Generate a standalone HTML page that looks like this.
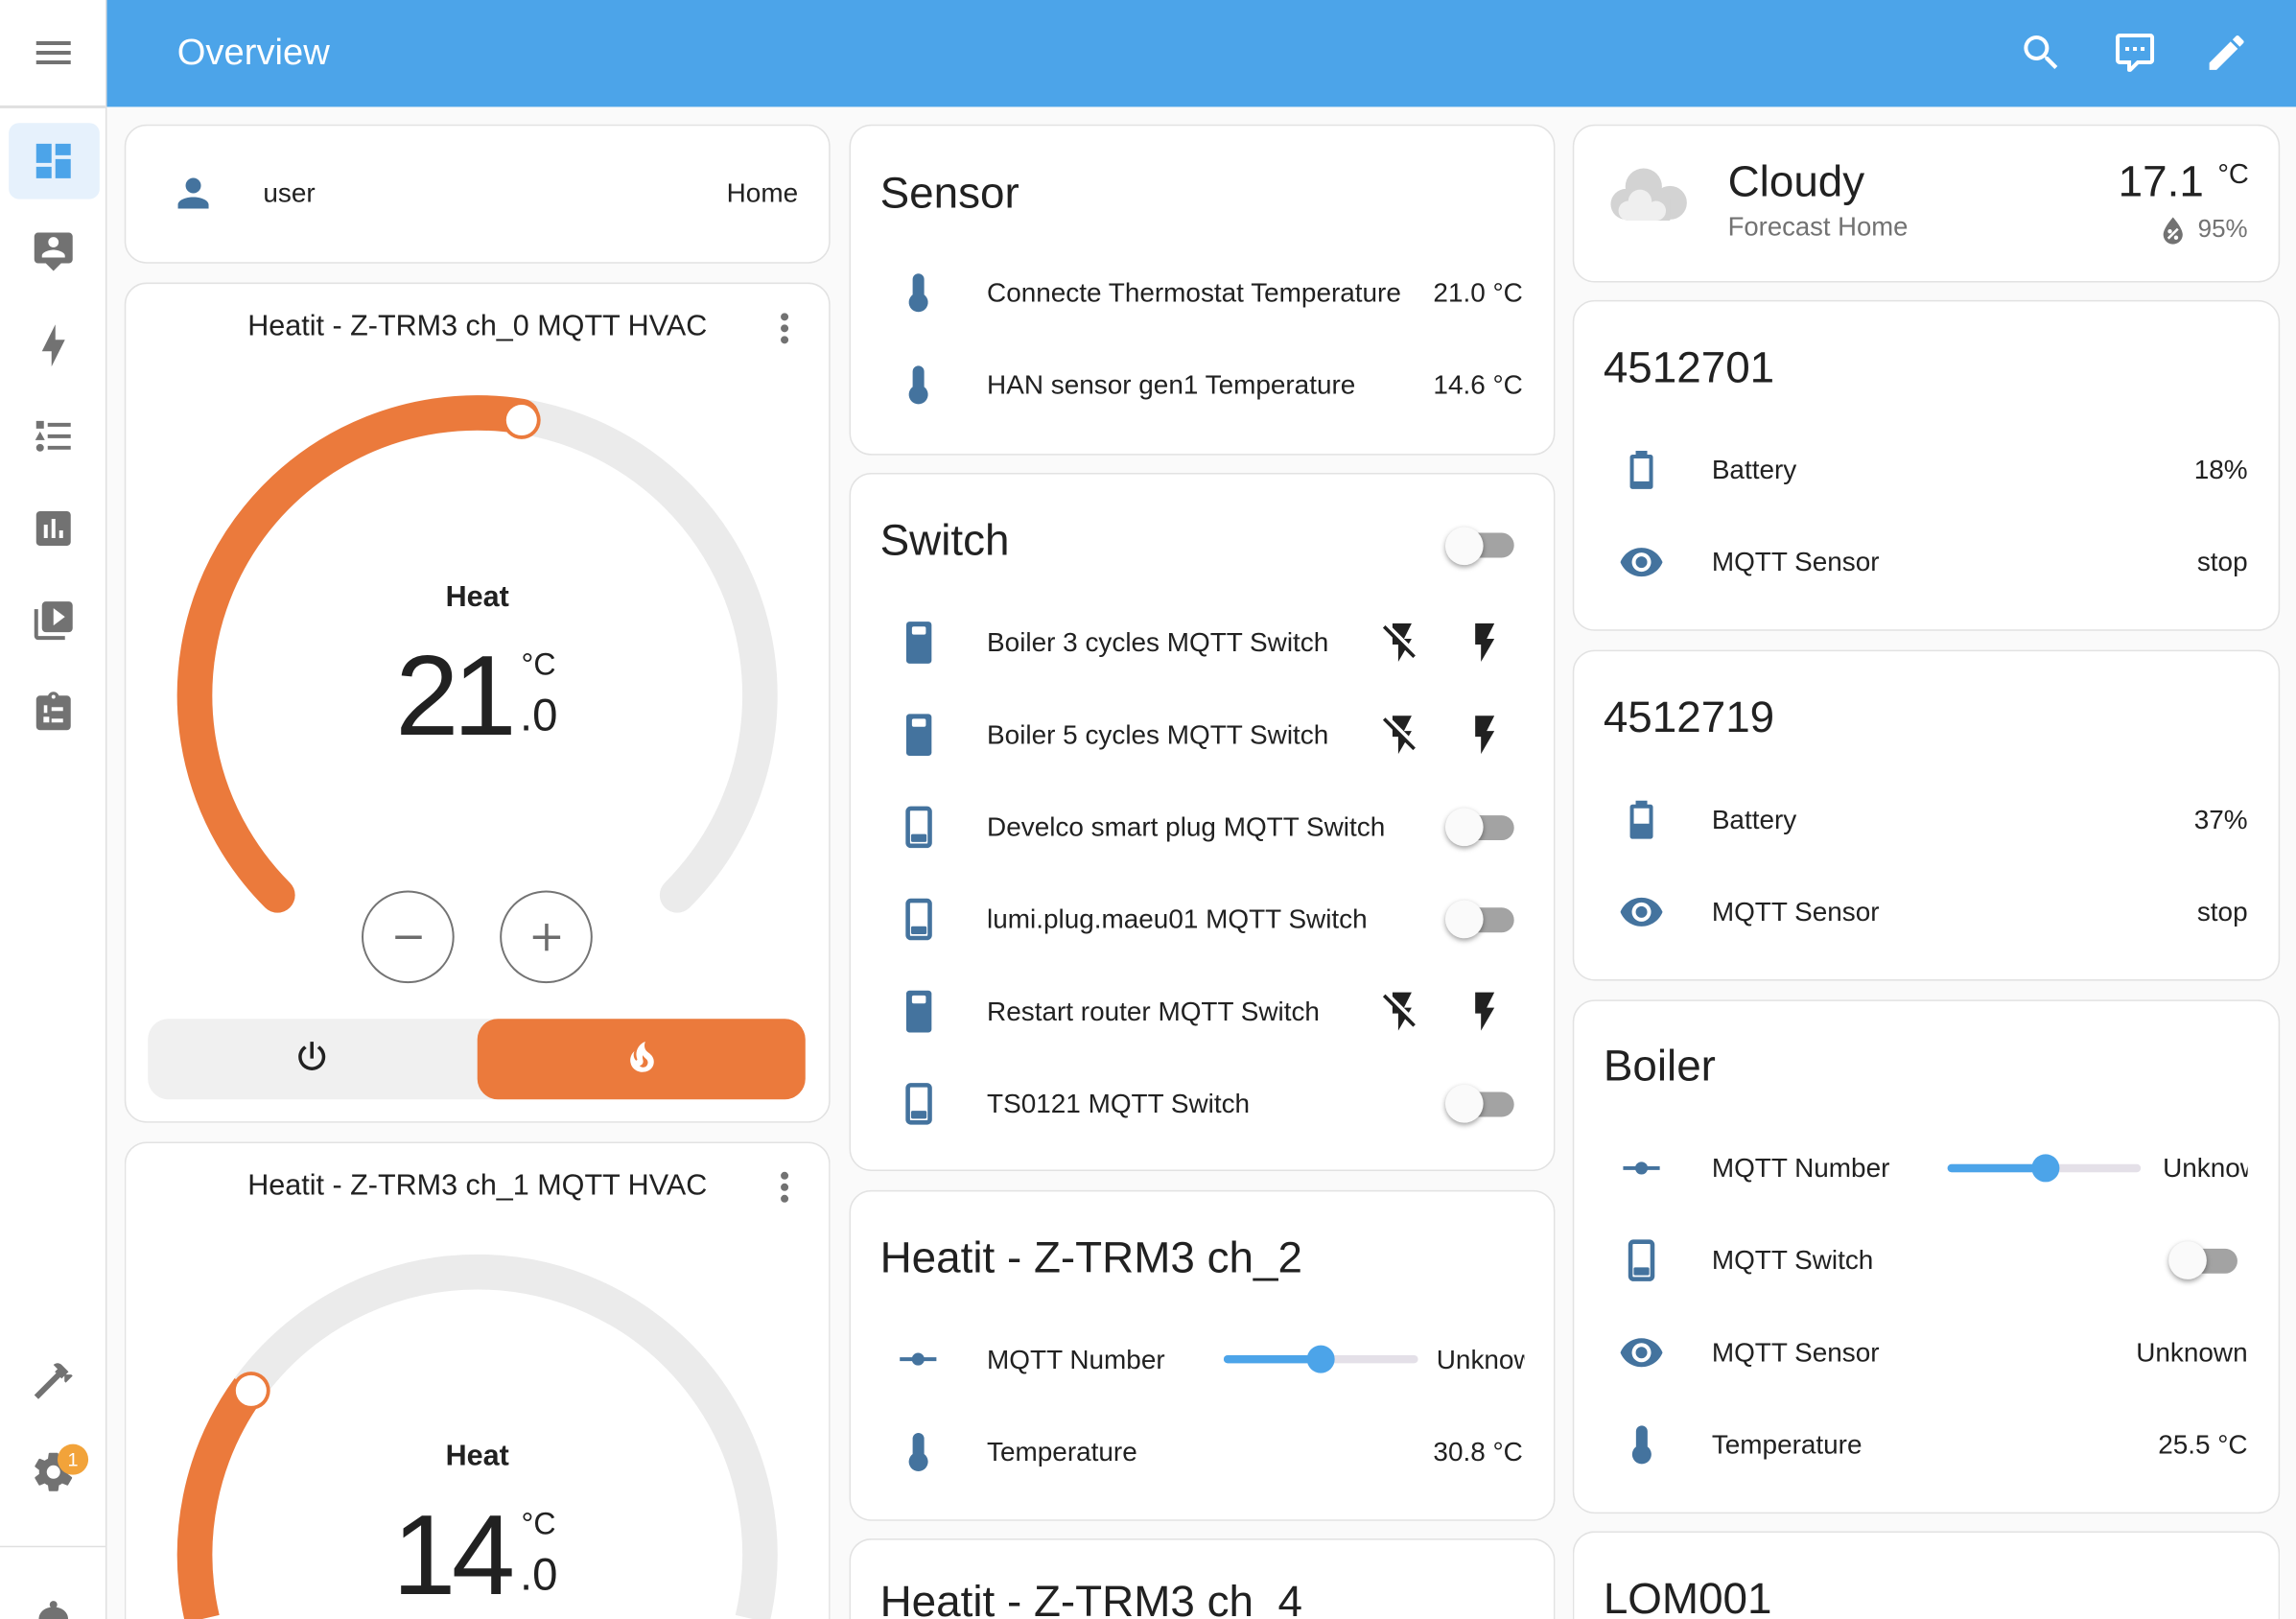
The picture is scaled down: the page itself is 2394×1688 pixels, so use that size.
<!DOCTYPE html>
<html><head><meta charset="utf-8">
<style>
html,body{margin:0;padding:0;width:2394px;height:1688px;overflow:hidden;background:#fafafa}
#s{position:absolute;left:0;top:0;width:1568px;height:1106px;transform-origin:0 0;transform:scale(1.526786,1.526221);font-family:"Liberation Sans",sans-serif;color:#212121;overflow:hidden;background:#fafafa}
.c{position:absolute;background:#fff;border:1.3px solid #e2e2e2;border-radius:15px;box-sizing:border-box}
.cb{border-bottom-width:0;border-radius:15px 15px 0 0}
.t{position:absolute;height:40px;line-height:40px;white-space:nowrap;font-size:18.3px}
.h{font-size:30px}
.ctr{text-align:center;width:482px;left:85px}
.tr{position:absolute;width:45px;height:17px;border-radius:8.5px;background:#a3a3a3}
.kn{position:absolute;width:26px;height:26px;border-radius:50%;background:#fafafa;box-shadow:0 1.5px 3.5px rgba(0,0,0,.38)}
</style></head><body><div id="s">

<!-- sidebar -->
<div style="position:absolute;left:0;top:0;width:72px;height:1106px;background:#fff;border-right:1.3px solid #e0e0e0"></div>
<div style="position:absolute;left:0;top:72.3px;width:72px;height:1.3px;background:#e0e0e0"></div>
<div style="position:absolute;left:0;top:1055.5px;width:72px;height:1.3px;background:#e0e0e0"></div>
<div style="position:absolute;left:5.6px;top:84px;width:62px;height:52px;border-radius:7px;background:#e6f1fc"></div>

<!-- header -->
<div style="position:absolute;left:73.3px;top:0;width:1495px;height:72.7px;background:#4ca4e9"></div>
<div class="t" style="left:121px;top:16px;font-size:25px;color:#fff">Overview</div>

<!-- cards -->
<div class="c" style="left:85px;top:85px;width:482px;height:95px"></div>
<div class="c" style="left:85px;top:193px;width:482px;height:574px"></div>
<div class="c cb" style="left:85px;top:780px;width:482px;height:326px"></div>
<div class="c" style="left:580px;top:85px;width:482px;height:226px"></div>
<div class="c" style="left:580px;top:323px;width:482px;height:477px"></div>
<div class="c" style="left:580px;top:813px;width:482px;height:226px"></div>
<div class="c cb" style="left:580px;top:1051px;width:482px;height:55px"></div>
<div class="c" style="left:1074px;top:85px;width:483px;height:108px"></div>
<div class="c" style="left:1074px;top:205px;width:483px;height:226px"></div>
<div class="c" style="left:1074px;top:444px;width:483px;height:226px"></div>
<div class="c" style="left:1074px;top:683px;width:483px;height:351px"></div>
<div class="c cb" style="left:1074px;top:1046px;width:483px;height:60px"></div>

<!-- mode bar -->
<div style="position:absolute;left:101px;top:695.5px;width:449px;height:55px;border-radius:14px;background:#f0f0f0"></div>
<div style="position:absolute;left:326px;top:695.5px;width:224px;height:55px;border-radius:14px;background:#eb7a3c"></div>

<!-- column 1 text -->
<div class="t" style="left:179.7px;top:112px">user</div>
<div class="t" style="right:1023px;top:112px">Home</div>
<div class="t ctr" style="top:203px;font-size:20px">Heatit - Z-TRM3 ch_0 MQTT HVAC</div>
<div class="t ctr" style="top:388px;font-size:20px;font-weight:bold">Heat</div>
<div class="t" style="left:270px;top:435px;height:80px;line-height:80px;font-size:78px;letter-spacing:-4px">21</div>
<div class="t" style="left:356px;top:435px;font-size:21px">°C</div>
<div class="t" style="left:355px;top:469px;font-size:31px">.0</div>
<div class="t ctr" style="top:790px;font-size:20px">Heatit - Z-TRM3 ch_1 MQTT HVAC</div>
<div class="t ctr" style="top:975px;font-size:20px;font-weight:bold">Heat</div>
<div class="t" style="left:268px;top:1022px;height:80px;line-height:80px;font-size:78px;letter-spacing:-3px">14</div>
<div class="t" style="left:356px;top:1021.5px;font-size:21px">°C</div>
<div class="t" style="left:355px;top:1056px;font-size:31px">.0</div>

<!-- column 2 text -->
<div class="t h" style="left:601px;top:113px">Sensor</div>
<div class="t" style="left:674px;top:180px">Connecte Thermostat Temperature</div>
<div class="t" style="right:528px;top:180px">21.0 °C</div>
<div class="t" style="left:674px;top:243px">HAN sensor gen1 Temperature</div>
<div class="t" style="right:528px;top:243px">14.6 °C</div>
<div class="t h" style="left:601px;top:350px">Switch</div>
<div class="t" style="left:674px;top:419px">Boiler 3 cycles MQTT Switch</div>
<div class="t" style="left:674px;top:482px">Boiler 5 cycles MQTT Switch</div>
<div class="t" style="left:674px;top:545px">Develco smart plug MQTT Switch</div>
<div class="t" style="left:674px;top:608px">lumi.plug.maeu01 MQTT Switch</div>
<div class="t" style="left:674px;top:671px">Restart router MQTT Switch</div>
<div class="t" style="left:674px;top:734px">TS0121 MQTT Switch</div>
<div class="t h" style="left:601px;top:840px">Heatit - Z-TRM3 ch_2</div>
<div class="t" style="left:674px;top:909px">MQTT Number</div>
<div class="t" style="left:981px;top:909px;width:60px;overflow:hidden">Unknown</div>
<div class="t" style="left:674px;top:972px">Temperature</div>
<div class="t" style="right:528px;top:972px">30.8 °C</div>
<div class="t h" style="left:601px;top:1075px;height:31px;overflow:hidden">Heatit - Z-TRM3 ch_4</div>

<!-- column 3 text -->
<div class="t h" style="left:1180px;top:104.5px">Cloudy</div>
<div class="t" style="left:1180px;top:135px;font-size:18px;color:#727272">Forecast Home</div>
<div class="t h" style="right:63px;top:104.5px">17.1</div>
<div class="t" style="left:1514.5px;top:99.5px;font-size:19px">°C</div>
<div class="t" style="right:33px;top:137px;font-size:17px;color:#727272">95%</div>
<div class="t h" style="left:1095px;top:232px">4512701</div>
<div class="t" style="left:1169px;top:301px">Battery</div>
<div class="t" style="right:33px;top:301px">18%</div>
<div class="t" style="left:1169px;top:364px">MQTT Sensor</div>
<div class="t" style="right:33px;top:364px">stop</div>
<div class="t h" style="left:1095px;top:471px">4512719</div>
<div class="t" style="left:1169px;top:540px">Battery</div>
<div class="t" style="right:33px;top:540px">37%</div>
<div class="t" style="left:1169px;top:603px">MQTT Sensor</div>
<div class="t" style="right:33px;top:603px">stop</div>
<div class="t h" style="left:1095px;top:709px">Boiler</div>
<div class="t" style="left:1169px;top:778px">MQTT Number</div>
<div class="t" style="left:1477px;top:778px;width:58px;overflow:hidden">Unknown</div>
<div class="t" style="left:1169px;top:841px">MQTT Switch</div>
<div class="t" style="left:1169px;top:904px">MQTT Sensor</div>
<div class="t" style="right:33px;top:904px">Unknown</div>
<div class="t" style="left:1169px;top:967px">Temperature</div>
<div class="t" style="right:33px;top:967px">25.5 °C</div>
<div class="t h" style="left:1095px;top:1073px;height:33px;overflow:hidden">LOM001</div>

<svg width="1568" height="1106" viewBox="0 0 1568 1106" style="position:absolute;left:0;top:0;overflow:hidden">
<!-- sidebar icons -->
<g fill="#727272">
<path transform="translate(20.8,20.3) scale(1.309)" d="M3,6H21V8H3V6M3,11H21V13H3V11M3,16H21V18H3V16Z"/>
<path transform="translate(20.8,156.3) scale(1.309)" fill-rule="evenodd" d="M20,2H4A2,2 0 0,0 2,4V16A2,2 0 0,0 4,18H8L12,22L16,18H20A2,2 0 0,0 22,16V4A2,2 0 0,0 20,2ZM12,4.3C13.5,4.3 14.7,5.5 14.7,7C14.7,8.5 13.5,9.7 12,9.7C10.5,9.7 9.3,8.5 9.3,7C9.3,5.5 10.5,4.3 12,4.3ZM18,15H6V14.1C6,12.1 10,11 12,11C14,11 18,12.1 18,14.1V15Z"/>
<path transform="translate(20.8,220.3) scale(1.309)" d="M11 15H6L13 1V9H18L11 23V15Z"/>
<path transform="translate(20.8,282.3) scale(1.309)" d="M5,9.5L7.5,14H2.5L5,9.5M3,4H7V8H3V4M5,20A2,2 0 0,0 7,18A2,2 0 0,0 5,16A2,2 0 0,0 3,18A2,2 0 0,0 5,20M9,5V7H21V5H9M9,19H21V17H9V19M9,13H21V11H9V13Z"/>
<path transform="translate(20.8,345.3) scale(1.309)" fill-rule="evenodd" d="M19 3H5C3.9 3 3 3.9 3 5V19C3 20.1 3.9 21 5 21H19C20.1 21 21 20.1 21 19V5C21 3.9 20.1 3 19 3ZM9 17H7V10H9V17ZM13 17H11V7H13V17ZM17 17H15V13H17V17Z"/>
<path transform="translate(20.8,408.3) scale(1.309)" fill-rule="evenodd" d="M4,6H2V20A2,2 0 0,0 4,22H18V20H4V6ZM20,2H8A2,2 0 0,0 6,4V16A2,2 0 0,0 8,18H20A2,2 0 0,0 22,16V4A2,2 0 0,0 20,2ZM12,14.5V5.5L18,10L12,14.5Z"/>
<g transform="translate(20.8,471.3) scale(1.309)">
<path d="M19,3H14.82C14.4,1.84 13.3,1 12,1C10.7,1 9.6,1.84 9.18,3H5A2,2 0 0,0 3,5V19A2,2 0 0,0 5,21H19A2,2 0 0,0 21,19V5A2,2 0 0,0 19,3Z"/>
<g fill="#fff"><circle cx="12" cy="3.6" r="1"/><rect x="7" y="8" width="1.8" height="4"/><rect x="6.8" y="14" width="3" height="3"/><rect x="11" y="9" width="6" height="2"/><rect x="11" y="15" width="6" height="2"/></g>
</g>
<path transform="translate(20.8,927.3) scale(1.309)" d="M2 19.63L13.43 8.2L12.72 7.5L14.14 6.07L12 3.89C13.2 2.7 15.09 2.7 16.27 3.89L19.87 7.5L18.45 8.91H21.29L22 9.62L18.45 13.21L17.74 12.5V9.62L16.27 11.04L15.56 10.33L4.13 21.76L2 19.63Z"/>
<path transform="translate(20.8,989.9) scale(1.309)" d="M12,15.5A3.5,3.5 0 0,1 8.5,12A3.5,3.5 0 0,1 12,8.5A3.5,3.5 0 0,1 15.5,12A3.5,3.5 0 0,1 12,15.5M19.43,12.97C19.47,12.65 19.5,12.33 19.5,12C19.5,11.67 19.47,11.34 19.43,11L21.54,9.37C21.73,9.22 21.78,8.95 21.66,8.73L19.66,5.27C19.54,5.05 19.27,4.96 19.05,5.05L16.56,6.05C16.04,5.66 15.5,5.32 14.87,5.07L14.5,2.42C14.46,2.18 14.25,2 14,2H10C9.75,2 9.54,2.18 9.5,2.42L9.13,5.07C8.5,5.32 7.96,5.66 7.44,6.05L4.95,5.05C4.73,4.96 4.46,5.05 4.34,5.27L2.34,8.73C2.21,8.95 2.27,9.22 2.46,9.37L4.57,11C4.53,11.34 4.5,11.67 4.5,12C4.5,12.33 4.53,12.65 4.57,12.97L2.46,14.63C2.27,14.78 2.21,15.05 2.34,15.27L4.34,18.73C4.46,18.95 4.73,19.03 4.95,18.95L7.44,17.94C7.96,18.34 8.5,18.68 9.13,18.93L9.5,21.58C9.54,21.82 9.75,22 10,22H14C14.25,22 14.46,21.82 14.5,21.58L14.87,18.93C15.5,18.67 16.04,18.34 16.56,17.94L19.05,18.95C19.27,19.03 19.54,18.95 19.66,18.73L21.66,15.27C21.78,15.05 21.73,14.78 21.54,14.63L19.43,12.97Z"/>
<!-- bell top (cut by frame) -->
<circle cx="36.5" cy="1096.2" r="2.6"/>
<path d="M26.5 1106 C26.5 1101.5 30.5 1097.8 36.5 1097.8 C42.5 1097.8 46.5 1101.5 46.5 1106 Z"/>
</g>
<path fill="#4ca4e9" transform="translate(20.8,94.3) scale(1.309)" d="M13,3V9H21V3M13,21H21V11H13M3,21H11V15H3M3,13H11V3H3V13Z"/>
<circle cx="49.8" cy="997" r="10.5" fill="#f2a33a"/>
<text x="49.8" y="1001.6" font-family="Liberation Sans, sans-serif" font-size="13" fill="#fff" text-anchor="middle">1</text>

<!-- header icons -->
<g fill="#fff">
<path transform="translate(1378.3,20.3) scale(1.309)" d="M9.5,3A6.5,6.5 0 0,1 16,9.5C16,11.11 15.41,12.59 14.44,13.73L14.71,14H15.5L20.5,19L19,20.5L14,15.5V14.71L13.73,14.44C12.59,15.41 11.11,16 9.5,16A6.5,6.5 0 0,1 3,9.5A6.5,6.5 0 0,1 9.5,3M9.5,5C7,5 5,7 5,9.5C5,12 7,14 9.5,14C12,14 14,12 14,9.5C14,7 12,5 9.5,5Z"/>
<path transform="translate(1442.3,20.3) scale(1.309)" d="M9,22A1,1 0 0,1 8,21V18H4A2,2 0 0,1 2,16V4C2,2.89 2.9,2 4,2H20A2,2 0 0,1 22,4V16A2,2 0 0,1 20,18H13.9L10.2,21.71C10,21.9 9.75,22 9.5,22V22H9M10,16V19.08L13.08,16H20V4H4V16H10M17,11H15V9H17V11M13,11H11V9H13V11M9,11H7V9H9V11Z"/>
<path transform="translate(1504.9,20.3) scale(1.309)" d="M20.71,7.04C21.1,6.65 21.1,6 20.71,5.63L18.37,3.29C18,2.9 17.35,2.9 16.96,3.29L15.12,5.12L18.87,8.87M3,17.25V21H6.75L17.81,9.93L14.06,6.18L3,17.25Z"/>
</g>

<!-- user icon -->
<path fill="#44739e" transform="translate(116.3,116.3) scale(1.309)" d="M12,4A4,4 0 0,1 16,8A4,4 0 0,1 12,12A4,4 0 0,1 8,8A4,4 0 0,1 12,4M12,14C16.42,14 20,15.79 20,18V20H4V18C4,15.79 7.58,14 12,14Z"/>
<!-- dots -->
<g fill="#727272">
<path transform="translate(520.1,208.6) scale(1.309)" d="M12,16A2,2 0 0,1 14,18A2,2 0 0,1 12,20A2,2 0 0,1 10,18A2,2 0 0,1 12,16M12,10A2,2 0 0,1 14,12A2,2 0 0,1 12,14A2,2 0 0,1 10,12A2,2 0 0,1 12,10M12,4A2,2 0 0,1 14,6A2,2 0 0,1 12,8A2,2 0 0,1 10,6A2,2 0 0,1 12,4Z"/>
<path transform="translate(520.1,795.3) scale(1.309)" d="M12,16A2,2 0 0,1 14,18A2,2 0 0,1 12,20A2,2 0 0,1 10,18A2,2 0 0,1 12,16M12,10A2,2 0 0,1 14,12A2,2 0 0,1 12,14A2,2 0 0,1 10,12A2,2 0 0,1 12,10M12,4A2,2 0 0,1 14,6A2,2 0 0,1 12,8A2,2 0 0,1 10,6A2,2 0 0,1 12,4Z"/>
</g>

<!-- gauge 1 -->
<path d="M189.5 611.5 A193 193 0 1 1 462.5 611.5" fill="none" stroke="#ebebeb" stroke-width="24" stroke-linecap="round"/>
<path d="M189.5 611.5 A193 193 0 0 1 356.2 284.4" fill="none" stroke="#eb7a3c" stroke-width="24" stroke-linecap="round"/>
<circle cx="356.2" cy="287" r="13" fill="#eb7a3c"/><circle cx="356.2" cy="287" r="10.5" fill="#fff"/>
<!-- gauge 2 (trimmed at frame bottom) -->
<path d="M138.1 1106 A193 193 0 1 1 513.9 1106" fill="none" stroke="#ebebeb" stroke-width="24" stroke-linecap="butt"/>
<path d="M138.1 1106 A193 193 0 0 1 169.9 948.6" fill="none" stroke="#eb7a3c" stroke-width="24" stroke-linecap="butt"/>
<circle cx="171.5" cy="950" r="13" fill="#eb7a3c"/><circle cx="171.5" cy="950" r="10.5" fill="#fff"/>

<!-- +/- -->
<circle cx="278.6" cy="640" r="31" fill="none" stroke="#747474" stroke-width="1.3"/>
<circle cx="373" cy="640" r="31" fill="none" stroke="#747474" stroke-width="1.3"/>
<g stroke="#6d6d6d" stroke-width="2.3">
<line x1="270" y1="640.3" x2="288" y2="640.3"/>
<line x1="364" y1="640.3" x2="382.6" y2="640.3"/>
<line x1="373.3" y1="631" x2="373.3" y2="649.5"/>
</g>
<!-- mode icons -->
<path fill="#212121" transform="translate(199.2,708.2) scale(1.15)" d="M16.56,5.44L15.11,6.89C16.84,7.94 18,9.83 18,12A6,6 0 0,1 12,18A6,6 0 0,1 6,12C6,9.83 7.16,7.94 8.88,6.88L7.44,5.44C5.36,6.88 4,9.28 4,12A8,8 0 0,0 12,20A8,8 0 0,0 20,12C20,9.28 18.64,6.88 16.56,5.44M13,3H11V13H13"/>
<path fill="#fff" transform="translate(424.7,708.2) scale(1.15)" d="M17.66 11.2C17.43 10.9 17.15 10.64 16.89 10.38C16.22 9.78 15.46 9.35 14.82 8.72C13.33 7.26 13 4.85 13.95 3C13 3.23 12.17 3.75 11.46 4.32C8.87 6.4 7.85 10.07 9.07 13.22C9.11 13.32 9.15 13.42 9.15 13.55C9.15 13.77 9 13.97 8.8 14.05C8.57 14.15 8.33 14.09 8.14 13.93C8.08 13.88 8.04 13.83 8 13.76C6.87 12.33 6.69 10.28 7.45 8.64C5.78 10 4.87 12.3 5 14.47C5.06 14.97 5.12 15.47 5.29 15.97C5.43 16.57 5.7 17.17 6 17.7C7.08 19.43 8.95 20.67 10.96 20.92C13.1 21.19 15.39 20.8 17.03 19.32C18.86 17.66 19.5 15 18.56 12.72L18.43 12.46C18.22 12 17.66 11.2 17.66 11.2M14.5 17.5C14.22 17.74 13.76 18 13.4 18.1C12.28 18.5 11.16 17.94 10.5 17.28C11.69 17 12.4 16.12 12.61 15.23C12.78 14.43 12.46 13.77 12.33 13C12.21 12.26 12.23 11.63 12.5 10.94C12.69 11.32 12.89 11.7 13.13 12C13.9 13 15.11 13.44 15.37 14.8C15.41 14.94 15.43 15.08 15.43 15.23C15.46 16.05 15.1 16.95 14.5 17.5H14.5Z"/>

<!-- thermometers -->
<g fill="#44739e">
<path transform="translate(611.5,184.3) scale(1.309)" d="M15 13V5A3 3 0 0 0 9 5V13A5 5 0 1 0 15 13Z"/>
<path transform="translate(611.5,247.3) scale(1.309)" d="M15 13V5A3 3 0 0 0 9 5V13A5 5 0 1 0 15 13Z"/>
<path transform="translate(611.5,976.3) scale(1.309)" d="M15 13V5A3 3 0 0 0 9 5V13A5 5 0 1 0 15 13Z"/>
<path transform="translate(1105.5,971.3) scale(1.309)" d="M15 13V5A3 3 0 0 0 9 5V13A5 5 0 1 0 15 13Z"/>
</g>

<!-- switch icons on -->
<g fill="#44739e">
<rect x="618.9" y="424.7" width="17.3" height="28.6" rx="2.2"/>
<rect x="618.9" y="487.7" width="17.3" height="28.6" rx="2.2"/>
<rect x="618.9" y="676.7" width="17.3" height="28.6" rx="2.2"/>
</g>
<g fill="#fff">
<rect x="622.8" y="428" width="9.5" height="5.5" rx="1.2"/>
<rect x="622.8" y="491" width="9.5" height="5.5" rx="1.2"/>
<rect x="622.8" y="680" width="9.5" height="5.5" rx="1.2"/>
</g>
<!-- switch icons off -->
<g fill="none" stroke="#44739e" stroke-width="3">
<rect x="620" y="552.3" width="15" height="25.5" rx="2"/>
<rect x="620" y="615.3" width="15" height="25.5" rx="2"/>
<rect x="620" y="741.3" width="15" height="25.5" rx="2"/>
<rect x="1113.5" y="848.3" width="15" height="25.5" rx="2"/>
</g>
<g fill="#44739e">
<rect x="622.2" y="569.8" width="10.6" height="5.4" rx="1"/>
<rect x="622.2" y="632.8" width="10.6" height="5.4" rx="1"/>
<rect x="622.2" y="758.8" width="10.6" height="5.4" rx="1"/>
<rect x="1115.7" y="865.8" width="10.6" height="5.4" rx="1"/>
</g>

<!-- flash icons -->
<g fill="#212121">
<path transform="translate(941.8,423.3) scale(1.309)" d="M17,10H13L17,2H7V4.18L15.46,12.64M3.27,3L2,4.27L7,9.27V13H10V22L13.58,15.86L17.73,20L19,18.73L3.27,3Z"/>
<path transform="translate(941.8,486.3) scale(1.309)" d="M17,10H13L17,2H7V4.18L15.46,12.64M3.27,3L2,4.27L7,9.27V13H10V22L13.58,15.86L17.73,20L19,18.73L3.27,3Z"/>
<path transform="translate(941.8,675.3) scale(1.309)" d="M17,10H13L17,2H7V4.18L15.46,12.64M3.27,3L2,4.27L7,9.27V13H10V22L13.58,15.86L17.73,20L19,18.73L3.27,3Z"/>
<path transform="translate(998.3,423.3) scale(1.309)" d="M7,2V13H10V22L17,10H13L17,2H7Z"/>
<path transform="translate(998.3,486.3) scale(1.309)" d="M7,2V13H10V22L17,10H13L17,2H7Z"/>
<path transform="translate(998.3,675.3) scale(1.309)" d="M7,2V13H10V22L17,10H13L17,2H7Z"/>
</g>

<!-- ray vertex -->
<g stroke="#44739e" stroke-width="2.6"><line x1="614.5" y1="928.5" x2="639.5" y2="928.5"/><line x1="1108.5" y1="798" x2="1133.5" y2="798"/></g>
<g fill="#44739e"><circle cx="627" cy="928.5" r="4.3"/><circle cx="1121" cy="798" r="4.3"/></g>

<!-- sliders -->
<rect x="835.7" y="925.8" width="132.7" height="5.5" rx="2.7" fill="#e4e0e8"/>
<rect x="835.7" y="925.8" width="66.3" height="5.5" rx="2.7" fill="#4ca4e9"/>
<circle cx="902" cy="928.5" r="9.5" fill="#4ca4e9"/>
<rect x="1330" y="795.3" width="132" height="5.5" rx="2.7" fill="#e4e0e8"/>
<rect x="1330" y="795.3" width="67" height="5.5" rx="2.7" fill="#4ca4e9"/>
<circle cx="1397" cy="798" r="9.5" fill="#4ca4e9"/>

<!-- batteries -->
<g fill="#44739e" fill-rule="evenodd">
<path transform="translate(1105.3,305.3) scale(1.309)" d="M16.67,4H15V2H9V4H7.33A1.33,1.33 0 0,0 6,5.33V20.67C6,21.4 6.6,22 7.33,22H16.67A1.33,1.33 0 0,0 18,20.67V5.33C18,4.6 17.4,4 16.67,4ZM16,18H8V6H16Z"/>
<path transform="translate(1105.3,544.3) scale(1.309)" d="M16.67,4H15V2H9V4H7.33A1.33,1.33 0 0,0 6,5.33V20.67C6,21.4 6.6,22 7.33,22H16.67A1.33,1.33 0 0,0 18,20.67V5.33C18,4.6 17.4,4 16.67,4ZM16,14H8V6H16Z"/>
</g>
<!-- eyes -->
<g fill="#44739e">
<path transform="translate(1105.3,368.3) scale(1.309)" d="M12,9A3,3 0 0,0 9,12A3,3 0 0,0 12,15A3,3 0 0,0 15,12A3,3 0 0,0 12,9M12,17A5,5 0 0,1 7,12A5,5 0 0,1 12,7A5,5 0 0,1 17,12A5,5 0 0,1 12,17M12,4.5C7,4.5 2.73,7.61 1,12C2.73,16.39 7,19.5 12,19.5C17,19.5 21.27,16.39 23,12C21.27,7.61 17,4.5 12,4.5Z"/>
<path transform="translate(1105.3,607.3) scale(1.309)" d="M12,9A3,3 0 0,0 9,12A3,3 0 0,0 12,15A3,3 0 0,0 15,12A3,3 0 0,0 12,9M12,17A5,5 0 0,1 7,12A5,5 0 0,1 12,7A5,5 0 0,1 17,12A5,5 0 0,1 12,17M12,4.5C7,4.5 2.73,7.61 1,12C2.73,16.39 7,19.5 12,19.5C17,19.5 21.27,16.39 23,12C21.27,7.61 17,4.5 12,4.5Z"/>
<path transform="translate(1105.3,908.3) scale(1.309)" d="M12,9A3,3 0 0,0 9,12A3,3 0 0,0 12,15A3,3 0 0,0 15,12A3,3 0 0,0 12,9M12,17A5,5 0 0,1 7,12A5,5 0 0,1 12,7A5,5 0 0,1 17,12A5,5 0 0,1 12,17M12,4.5C7,4.5 2.73,7.61 1,12C2.73,16.39 7,19.5 12,19.5C17,19.5 21.27,16.39 23,12C21.27,7.61 17,4.5 12,4.5Z"/>
</g>

<!-- weather cloud -->
<g fill="#d3d3d3">
<circle cx="1122.5" cy="127.5" r="12.5"/>
<circle cx="1140.5" cy="138.5" r="11.5"/>
<circle cx="1110.5" cy="139.5" r="10.5"/>
<rect x="1110.5" y="135" width="30" height="15.7"/>
</g>
<g fill="#efefef">
<circle cx="1120" cy="137.5" r="8"/>
<circle cx="1112" cy="144" r="6.7"/>
<circle cx="1131" cy="144" r="6.7"/>
<rect x="1112" y="140" width="19" height="10.7"/>
</g>
<rect x="1100" y="150.7" width="55" height="4" fill="#fff"/>
<!-- humidity -->
<path fill="#727272" fill-rule="evenodd" transform="translate(1470.8,144.8) scale(1.1)" d="M12,3.25C12,3.25 6,10 6,14C6,17.32 8.69,20 12,20A6,6 0 0,0 18,14C18,10 12,3.25 12,3.25ZM14.47,9.97L15.53,11.03L9.53,17.03L8.47,15.97ZM10.08,10.75C10.81,10.75 11.4,11.34 11.4,12.07C11.4,12.8 10.81,13.39 10.08,13.39C9.35,13.39 8.76,12.8 8.76,12.07C8.76,11.34 9.35,10.75 10.08,10.75ZM13.92,14.61C14.65,14.61 15.24,15.2 15.24,15.93C15.24,16.66 14.65,17.25 13.92,17.25C13.19,17.25 12.6,16.66 12.6,15.93C12.6,15.2 13.19,14.61 13.92,14.61Z"/>
</svg>

<!-- toggles -->
<div class="tr" style="left:989px;top:363.5px"></div><div class="kn" style="left:986.5px;top:359.5px"></div>
<div class="tr" style="left:989px;top:556.5px"></div><div class="kn" style="left:986.5px;top:552px"></div>
<div class="tr" style="left:989px;top:619.5px"></div><div class="kn" style="left:986.5px;top:615px"></div>
<div class="tr" style="left:989px;top:745.5px"></div><div class="kn" style="left:986.5px;top:741px"></div>
<div class="tr" style="left:1483px;top:852.5px"></div><div class="kn" style="left:1481px;top:848px"></div>

</div></body></html>
